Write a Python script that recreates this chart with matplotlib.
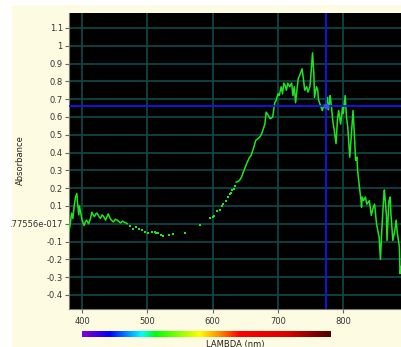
import numpy as np
import matplotlib
matplotlib.use("Agg")
import matplotlib.pyplot as plt
from matplotlib.colors import LinearSegmentedColormap
from matplotlib.patches import Rectangle

# ---- data ----
wl_left = [380, 382, 384, 386, 388, 390, 392, 393, 395, 396, 398, 400, 403, 405, 407,
           410, 413, 415, 417, 419, 421, 423, 426, 428, 431, 434, 436, 440, 443, 445,
           448, 451, 454, 457, 459, 462, 464, 467, 469]
ab_left = [-0.04, 0.0, 0.06, 0.03, 0.10, 0.15, 0.17, 0.12, 0.05, 0.10, 0.06, 0.02, -0.01,
           0.01, 0.02, 0.0, 0.03, 0.065, 0.05, 0.04, 0.055, 0.06, 0.04, 0.03, 0.05, 0.035,
           0.02, 0.055, 0.03, 0.02, 0.01, 0.025, 0.02, 0.01, 0.005, 0.015, 0.01, 0.005, 0.0]

wl_mid = [473, 478, 483, 487, 492, 496, 501, 507, 512, 514, 517, 521, 524, 533, 539, 558,
          581, 596, 600, 602, 606, 611, 614, 616, 621, 624, 626, 628, 630, 632, 634]
ab_mid = [-0.01, -0.03, -0.02, -0.03, -0.035, -0.045, -0.05, -0.045, -0.045, -0.05, -0.05,
          -0.065, -0.07, -0.065, -0.06, -0.05, -0.005, 0.03, 0.04, 0.043, 0.07, 0.08, 0.10,
          0.11, 0.127, 0.15, 0.165, 0.175, 0.187, 0.197, 0.21]

wl_right = [636, 638, 641, 644, 648, 652, 656, 659, 663, 666, 669, 673, 676, 680, 682, 685,
            688, 692, 695, 697, 700, 702, 705, 707, 709, 711, 713, 715, 718, 721, 723, 725,
            727, 731, 734, 737, 739, 741, 744, 746, 749, 751, 753, 755, 756, 759, 761, 762,
            765, 768, 770, 772, 774, 776, 777, 779, 780, 782, 784, 787, 789, 791, 793, 796,
            799, 800, 803, 805, 807, 810, 812, 815, 817, 819, 821, 822, 825, 827, 828, 829,
            831, 834, 836, 840, 843, 846, 848, 851, 853, 855, 857, 859, 862, 863, 866, 867,
            870, 872, 873, 876, 879, 881, 883, 886, 887, 889]
ab_right = [0.234, 0.236, 0.243, 0.26, 0.30, 0.337, 0.37, 0.384, 0.43, 0.468, 0.477, 0.49,
            0.515, 0.56, 0.627, 0.61, 0.59, 0.60, 0.68, 0.69, 0.73, 0.72, 0.77, 0.73, 0.79,
            0.777, 0.75, 0.79, 0.77, 0.79, 0.72, 0.77, 0.68, 0.815, 0.84, 0.87, 0.815, 0.75,
            0.77, 0.74, 0.77, 0.86, 0.96, 0.84, 0.71, 0.77, 0.75, 0.70, 0.665, 0.636, 0.665,
            0.655, 0.69, 0.71, 0.64, 0.68, 0.72, 0.655, 0.58, 0.505, 0.45, 0.58, 0.636, 0.56,
            0.655, 0.62, 0.72, 0.60, 0.54, 0.374, 0.477, 0.636, 0.505, 0.356, 0.374, 0.30,
            0.2, 0.14, 0.093, 0.15, 0.13, 0.15, 0.11, 0.13, 0.047, 0.093, 0.11, 0.0, -0.04,
            -0.075, -0.2, -0.04, 0.15, 0.19, 0.056, -0.094, 0.13, 0.15, 0.056, -0.094, -0.04,
            0.02, -0.056, -0.13, -0.28, -0.24]

cursor_x = 774
cursor_y = 0.66

yticks = [-0.4, -0.3, -0.2, -0.1, 0.0, 0.1, 0.2, 0.3, 0.4, 0.5, 0.6, 0.7, 0.8, 0.9, 1.0, 1.1]
ytick_labels = ["-0.4", "-0.3", "-0.2", "-0.1", ".77556e-017", "0.1", "0.2", "0.3", "0.4",
                "0.5", "0.6", "0.7", "0.8", "0.9", "1", "1.1"]
xticks = [400, 500, 600, 700, 800]
xtick_labels = ["400", "500", "600", "700", "800"]

spec_stops = [400, 442, 491, 512, 580, 610, 641, 713, 781]
spec_colors = ["#8a00c8", "#0000ff", "#00ffff", "#00ff00", "#ffff00", "#ff8c00", "#ff0000",
               "#e00000", "#500000"]

# ---- figure ----
W, H = 402, 347
fig = plt.figure(figsize=(W / 100, H / 100), dpi=100, facecolor="white")
fig.patches.append(Rectangle((12 / W, 0), 390 / W, 342 / H, transform=fig.transFigure,
                             facecolor="#fdfbe1", edgecolor="none", zorder=-10))

ax = fig.add_axes([69 / W, 38 / H, (W - 69) / W, (309 - 13) / H])
ax.set_facecolor("black")
ax.set_xlim(380, 890)
ax.set_ylim(-0.479, 1.184)
ax.set_xticks(xticks)
ax.set_xticklabels(xtick_labels)
ax.set_yticks(yticks)
ax.set_yticklabels(ytick_labels)
ax.grid(True, color="#124848", linewidth=1.2)
ax.set_axisbelow(True)
for s in ["top", "right"]:
    ax.spines[s].set_visible(False)
for s in ["left", "bottom"]:
    ax.spines[s].set_color("#7a7a7a")
    ax.spines[s].set_linewidth(0.8)
ax.tick_params(axis="both", colors="#666666", labelcolor="#333333", labelsize=6,
               length=3, width=0.8, pad=1.5)
ax.tick_params(axis="x", pad=3)

green = "#1ee61e"
ax.plot(wl_left, ab_left, color=green, linewidth=1.1, zorder=3)
ax.plot(wl_mid, ab_mid, linestyle="none", marker="s", markersize=1.6, color=green,
        markeredgewidth=0, zorder=3)
ax.plot(wl_right, ab_right, color=green, linewidth=1.1, zorder=3)

ax.axvline(cursor_x, color="#1414f0", linewidth=1.3, zorder=4)
ax.axhline(cursor_y, color="#1414f0", linewidth=1.3, zorder=4)
ax.plot([cursor_x], [cursor_y], marker="o", markersize=4, color="#3050ff",
        markeredgewidth=0, zorder=5)

fig.text(20 / W, (H - 160) / H, "Absorbance", rotation=90, ha="center", va="center",
         fontsize=6, color="#222222")

# ---- spectrum bar ----
cax = fig.add_axes([69 / W, 10 / H, (W - 69) / W, 6 / H], sharex=ax)
pos = [(v - spec_stops[0]) / (spec_stops[-1] - spec_stops[0]) for v in spec_stops]
cmap = LinearSegmentedColormap.from_list("spec", list(zip(pos, spec_colors)))
grad = np.linspace(0, 1, 512).reshape(1, -1)
cax.imshow(grad, aspect="auto", cmap=cmap,
           extent=[spec_stops[0], spec_stops[-1], 0, 1])
cax.set_xlim(380, 890)
cax.set_ylim(0, 1)
cax.axis("off")

fig.text(235 / W, (H - 339.5) / H, "LAMBDA (nm)", ha="center", va="top", fontsize=6,
         color="#222222")

fig.savefig("out.png", dpi=100, facecolor=fig.get_facecolor())
